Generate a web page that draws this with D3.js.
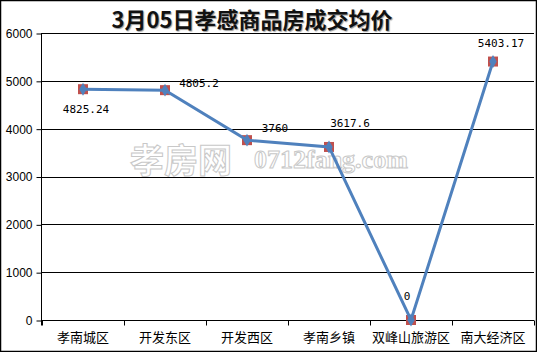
<!DOCTYPE html>
<html lang="zh">
<head>
<meta charset="UTF-8">
<title>3月05日孝感商品房成交均价</title>
<script src="https://d3js.org/d3.v7.min.js"></script>
<style>
  body { margin: 0; background: #fff; }
  svg { display: block; }
  .title { font-family: "Noto Sans CJK SC", sans-serif; font-weight: bold; font-size: 22px; fill: #111; }
  .axis text { font-family: "Liberation Sans", Arial, sans-serif; font-size: 12px; fill: #000; }
  .cat text { font-family: "Noto Sans CJK SC", sans-serif; font-size: 13px; fill: #000; }
  .lbl { font-family: "DejaVu Sans Mono", monospace; font-size: 11px; fill: #000; }
</style>
</head>
<body>
<div id="chart"></div>
<script>
// 数据
var categories = ["孝南城区", "开发东区", "开发西区", "孝南乡镇", "双峰山旅游区", "南大经济区"];
var prices = [4825.24, 4805.2, 3760, 3617.6, 0, 5403.17];
var priceLabels = ["4825.24", "4805.2", "3760", "3617.6", "0", "5403.17"];
var yTicks = [0, 1000, 2000, 3000, 4000, 5000, 6000];

// 标签偏移（相对于数据点）
var labelOffsets = [[3, 24], [34, -3], [28, -8], [21, -20], [-4, -20], [8, -15]];

var width = 537, height = 352;
var margin = { top: 33, right: 3, bottom: 32, left: 41 };

var svg = d3.select("#chart").append("svg")
    .attr("width", width)
    .attr("height", height);

// 外框
svg.append("rect")
    .attr("x", 0.5).attr("y", 0.5)
    .attr("width", width - 1).attr("height", height - 1)
    .attr("fill", "#fff").attr("stroke", "#000").attr("stroke-width", 1.5);

var x = d3.scaleBand()
    .domain(categories)
    .range([margin.left + 1, width - margin.right]);

var y = d3.scaleLinear()
    .domain([0, 6000])
    .range([height - margin.bottom, margin.top]);

// 水印
var wm = svg.append("g").attr("fill", "#fff").attr("stroke", "#c8c8c8").attr("stroke-width", 1);
wm.append("text")
    .attr("x", 130).attr("y", 173)
    .style("font-family", "Noto Sans CJK SC").style("font-size", "34px").style("font-weight", "bold")
    .text("孝房网");
wm.append("text")
    .attr("x", 254).attr("y", 168)
    .style("font-family", "Liberation Serif, serif").style("font-size", "26px").style("font-weight", "bold")
    .text("0712fang.com");

// 网格线
svg.append("g")
    .selectAll("line")
    .data(yTicks.slice(1))
    .enter().append("line")
    .attr("x1", margin.left).attr("x2", width - margin.right)
    .attr("y1", function (d) { return Math.round(y(d)) + 0.5; })
    .attr("y2", function (d) { return Math.round(y(d)) + 0.5; })
    .attr("stroke", "#000");

// Y 轴
svg.append("g")
    .attr("class", "axis")
    .attr("transform", "translate(" + (margin.left + 0.5) + ",0.5)")
    .call(d3.axisLeft(y).tickValues(yTicks).tickSize(5).tickPadding(4).tickFormat(d3.format("d")))
    .call(function (g) { g.selectAll("line, path").attr("stroke", "#000"); g.select(".domain").attr("d", "M0," + (y(0) + 5) + "V" + y(6000)); });

// X 轴
var xAxis = svg.append("g")
    .attr("class", "cat")
    .attr("transform", "translate(0," + (y(0) + 0.5) + ")");
xAxis.append("line")
    .attr("x1", margin.left).attr("x2", width - margin.right)
    .attr("stroke", "#000");
xAxis.selectAll(".tk")
    .data(categories.concat(["end"]))
    .enter().append("line")
    .attr("x1", function (d, i) { return Math.round(i < categories.length ? x(d) : x.range()[1]) + 0.5; })
    .attr("x2", function (d, i) { return Math.round(i < categories.length ? x(d) : x.range()[1]) + 0.5; })
    .attr("y1", 0).attr("y2", 5)
    .attr("stroke", "#000");
xAxis.selectAll("text")
    .data(categories)
    .enter().append("text")
    .attr("x", function (d) { return x(d) + x.bandwidth() / 2; })
    .attr("y", 21)
    .attr("text-anchor", "middle")
    .text(function (d) { return d; });

// 折线
var pts = categories.map(function (c, i) { return [x(c) + x.bandwidth() / 2, y(prices[i])]; });

svg.append("g").selectAll("rect")
    .data(pts)
    .enter().append("rect")
    .attr("x", function (d) { return d[0] - 5; })
    .attr("y", function (d) { return d[1] - 5; })
    .attr("width", 10).attr("height", 10)
    .attr("fill", "#c0504d");

svg.append("path")
    .datum(pts)
    .attr("fill", "none")
    .attr("stroke", "#4f81bd")
    .attr("stroke-width", 3)
    .attr("d", d3.line());

svg.append("g").selectAll("path")
    .data(pts)
    .enter().append("path")
    .attr("transform", function (d) { return "translate(" + d[0] + "," + d[1] + ")"; })
    .attr("d", d3.symbol().type(d3.symbolDiamond).size(48))
    .attr("fill", "#4f81bd");

// 数据标签
svg.append("g").selectAll("text")
    .data(pts)
    .enter().append("text")
    .attr("class", "lbl")
    .attr("x", function (d, i) { return d[0] + labelOffsets[i][0]; })
    .attr("y", function (d, i) { return d[1] + labelOffsets[i][1]; })
    .attr("text-anchor", "middle")
    .text(function (d, i) { return priceLabels[i]; });

// 标题
svg.append("text")
    .attr("class", "title")
    .attr("x", 252).attr("y", 28)
    .attr("text-anchor", "middle")
    .style("text-shadow", "1px 1px 1px #999")
    .text("3月05日孝感商品房成交均价");
</script>
</body>
</html>
